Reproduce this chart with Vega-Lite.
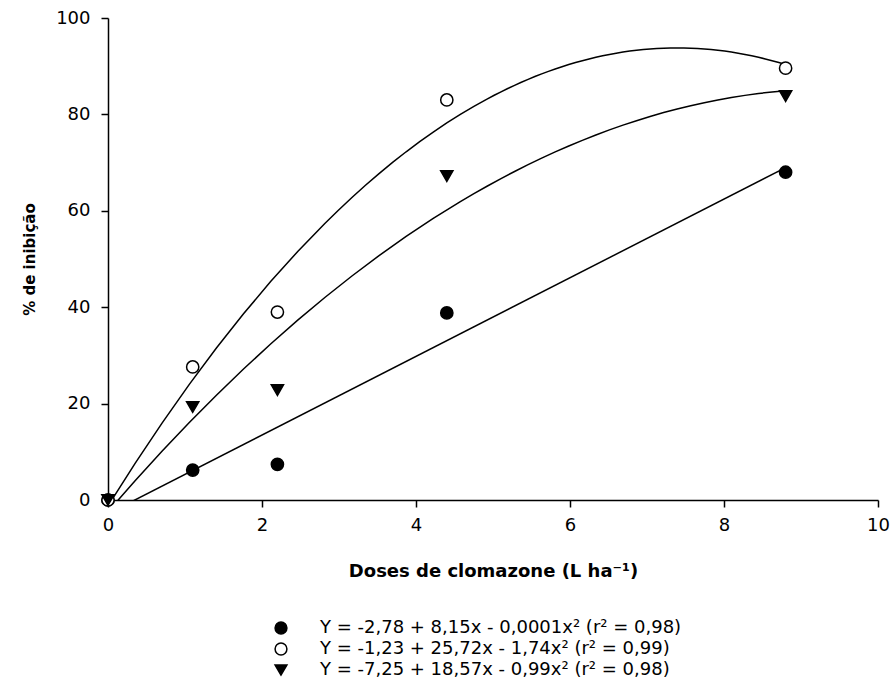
{
  "$schema": "https://vega.github.io/schema/vega-lite/v6.json",
  "width": 770,
  "height": 482,
  "autosize": {"type": "none"},
  "padding": {"left": 108, "top": 18, "right": 16, "bottom": 185},
  "background": "white",
  "config": {
    "view": {"stroke": null},
    "font": "DejaVu Sans",
    "axis": {
      "grid": false,
      "domainColor": "black",
      "domainWidth": 1.5,
      "tickColor": "black",
      "tickWidth": 1.5,
      "tickSize": 7,
      "labelFont": "DejaVu Sans",
      "labelFontSize": 18,
      "labelColor": "black",
      "labelFlush": false,
      "titleFont": "DejaVu Sans",
      "titleFontSize": 15,
      "titleFontWeight": "bold",
      "titleColor": "black"
    },
    "legend": {
      "labelFont": "DejaVu Sans",
      "labelFontSize": 18,
      "labelColor": "black",
      "labelLimit": 700
    }
  },
  "data": {
    "values": [
      {"s": "Y = -2,78 + 8,15x - 0,0001x² (r² = 0,98)", "dose": 0, "inib": 0},
      {"s": "Y = -2,78 + 8,15x - 0,0001x² (r² = 0,98)", "dose": 1.1, "inib": 6.2},
      {"s": "Y = -2,78 + 8,15x - 0,0001x² (r² = 0,98)", "dose": 2.2, "inib": 7.4},
      {"s": "Y = -2,78 + 8,15x - 0,0001x² (r² = 0,98)", "dose": 4.4, "inib": 38.8},
      {"s": "Y = -2,78 + 8,15x - 0,0001x² (r² = 0,98)", "dose": 8.8, "inib": 68},
      {"s": "Y = -1,23 + 25,72x - 1,74x² (r² = 0,99)", "dose": 0, "inib": 0},
      {"s": "Y = -1,23 + 25,72x - 1,74x² (r² = 0,99)", "dose": 1.1, "inib": 27.6},
      {"s": "Y = -1,23 + 25,72x - 1,74x² (r² = 0,99)", "dose": 2.2, "inib": 39},
      {"s": "Y = -1,23 + 25,72x - 1,74x² (r² = 0,99)", "dose": 4.4, "inib": 83},
      {"s": "Y = -1,23 + 25,72x - 1,74x² (r² = 0,99)", "dose": 8.8, "inib": 89.6},
      {"s": "Y = -7,25 + 18,57x - 0,99x² (r² = 0,98)", "dose": 0, "inib": 0},
      {"s": "Y = -7,25 + 18,57x - 0,99x² (r² = 0,98)", "dose": 1.1, "inib": 19.3},
      {"s": "Y = -7,25 + 18,57x - 0,99x² (r² = 0,98)", "dose": 2.2, "inib": 22.8},
      {"s": "Y = -7,25 + 18,57x - 0,99x² (r² = 0,98)", "dose": 4.4, "inib": 67.2},
      {"s": "Y = -7,25 + 18,57x - 0,99x² (r² = 0,98)", "dose": 8.8, "inib": 83.8}
    ]
  },
  "layer": [
    {
      "transform": [
        {"filter": "datum.s == 'Y = -2,78 + 8,15x - 0,0001x² (r² = 0,98)'"},
        {"regression": "inib", "on": "dose", "groupby": ["s"], "method": "linear", "extent": [0, 8.8]}
      ],
      "mark": {"type": "line", "color": "black", "strokeWidth": 1.5, "clip": true},
      "encoding": {
        "x": {"field": "dose", "type": "quantitative", "scale": {"domain": [0, 10]}},
        "y": {"field": "inib", "type": "quantitative", "scale": {"domain": [0, 100]}},
        "detail": {"field": "s"}
      }
    },
    {
      "transform": [
        {"filter": "datum.s != 'Y = -2,78 + 8,15x - 0,0001x² (r² = 0,98)'"},
        {"regression": "inib", "on": "dose", "groupby": ["s"], "method": "poly", "order": 2, "extent": [0, 8.8]}
      ],
      "mark": {"type": "line", "color": "black", "strokeWidth": 1.5, "clip": true},
      "encoding": {
        "x": {"field": "dose", "type": "quantitative"},
        "y": {"field": "inib", "type": "quantitative"},
        "detail": {"field": "s"}
      }
    },
    {
      "mark": {"type": "point", "filled": true, "strokeWidth": 1.5, "opacity": 1, "size": 150},
      "encoding": {
        "x": {
          "field": "dose", "type": "quantitative",
          "scale": {"domain": [0, 10]},
          "axis": {"values": [0, 2, 4, 6, 8, 10], "format": "d", "title": "Doses de clomazone (L ha⁻¹)", "titleFontSize": 18, "labelPadding": 9, "titlePadding": 28}
        },
        "y": {
          "field": "inib", "type": "quantitative",
          "scale": {"domain": [0, 100]},
          "axis": {"values": [0, 20, 40, 60, 80, 100], "format": "d", "title": "% de inibição", "labelPadding": 11, "titlePadding": 18}
        },
        "shape": {
          "field": "s", "type": "nominal",
          "scale": {
            "domain": ["Y = -2,78 + 8,15x - 0,0001x² (r² = 0,98)", "Y = -1,23 + 25,72x - 1,74x² (r² = 0,99)", "Y = -7,25 + 18,57x - 0,99x² (r² = 0,98)"],
            "range": ["circle", "circle", "triangle-down"]
          },
          "legend": {"orient": "none", "legendX": 164, "legendY": 601, "title": null, "direction": "vertical", "rowPadding": 3, "padding": 0, "labelOffset": 30, "symbolSize": 140, "symbolStrokeWidth": 1.5}
        },
        "fill": {
          "field": "s", "type": "nominal",
          "scale": {
            "domain": ["Y = -2,78 + 8,15x - 0,0001x² (r² = 0,98)", "Y = -1,23 + 25,72x - 1,74x² (r² = 0,99)", "Y = -7,25 + 18,57x - 0,99x² (r² = 0,98)"],
            "range": ["black", "white", "black"]
          },
          "legend": {"orient": "none", "legendX": 164, "legendY": 601, "title": null, "direction": "vertical", "rowPadding": 3, "padding": 0, "labelOffset": 30, "symbolSize": 140, "symbolStrokeWidth": 1.5}
        },
        "stroke": {
          "field": "s", "type": "nominal",
          "scale": {
            "domain": ["Y = -2,78 + 8,15x - 0,0001x² (r² = 0,98)", "Y = -1,23 + 25,72x - 1,74x² (r² = 0,99)", "Y = -7,25 + 18,57x - 0,99x² (r² = 0,98)"],
            "range": ["black", "black", "black"]
          },
          "legend": {"orient": "none", "legendX": 164, "legendY": 601, "title": null, "direction": "vertical", "rowPadding": 3, "padding": 0, "labelOffset": 30, "symbolSize": 140, "symbolStrokeWidth": 1.5}
        }
      }
    }
  ]
}
